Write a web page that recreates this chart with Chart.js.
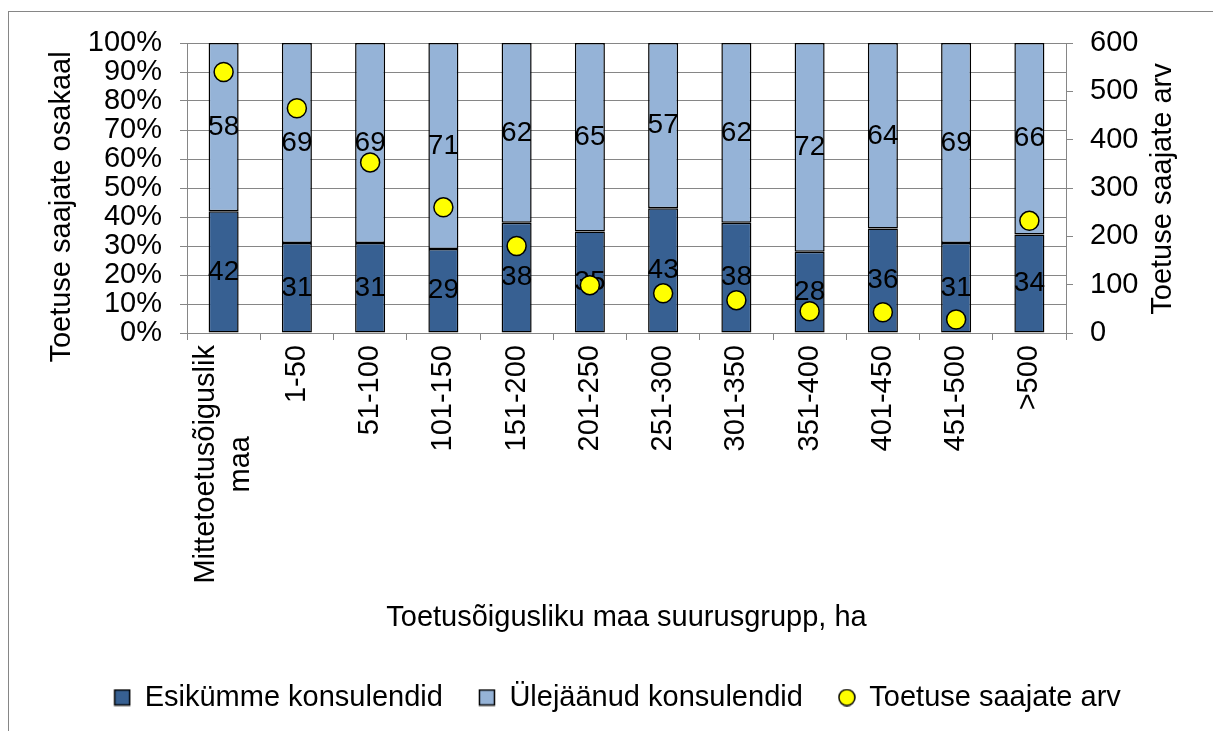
<!DOCTYPE html>
<html>
<head>
<meta charset="utf-8">
<script src="https://cdn.jsdelivr.net/npm/chart.js@4.4.1/dist/chart.umd.min.js"></script>
<style>
  body { margin: 0; background: #fff; overflow: hidden; }
  #frame { position: absolute; left: 8px; top: 11px; width: 1300px; height: 800px; border: 1px solid #868686; }
  #wrap { position: absolute; left: 0; top: 0; width: 1213px; height: 731px; }
</style>
</head>
<body>
<div id="frame"></div>
<div id="wrap"><canvas id="myChart"></canvas></div>
<script>
var categories = [["Mittetoetusõiguslik", "maa"], "1-50", "51-100", "101-150", "151-200", "201-250",
  "251-300", "301-350", "351-400", "401-450", "451-500", ">500"];
var esikumme = [42, 31, 31, 29, 38, 35, 43, 38, 28, 36, 31, 34];
var ulejaanud = [58, 69, 69, 71, 62, 65, 57, 62, 72, 64, 69, 66];
var saajad = [540, 465, 353, 260, 180, 99, 82, 68, 45, 43, 28, 232];

var gridColor = "#868686";
var fontFamily = "'Liberation Sans', Arial, sans-serif";
var textSize = 29;

Chart.defaults.font.family = fontFamily;
Chart.defaults.font.size = textSize;
Chart.defaults.color = "#000";

// small marker pictures for the legend
function marker(fill, round) {
  var c = document.createElement("canvas");
  c.width = 18;
  c.height = 18;
  var g = c.getContext("2d");
  g.fillStyle = fill;
  g.strokeStyle = "#000";
  g.lineWidth = 1.5;
  if (round) {
    g.beginPath();
    g.arc(9, 9, 8, 0, 2 * Math.PI);
    g.fill();
    g.stroke();
  } else {
    g.fillRect(1.5, 1.5, 15, 15);
    g.strokeRect(1.5, 1.5, 15, 15);
  }
  return c;
}
var markers = [marker("#376092"), marker("#95B3D7"), marker("#FFFF00", true)];

// numbers in the middle of each bar piece
var barLabels = {
  id: "barLabels",
  afterDatasetDraw: function(chart, args) {
    var meta = args.meta;
    if (meta.type !== "bar") return;
    var data = chart.data.datasets[args.index].data;
    var ctx = chart.ctx;
    ctx.save();
    ctx.font = "28px " + fontFamily;
    ctx.fillStyle = "#000";
    ctx.textAlign = "center";
    ctx.textBaseline = "middle";
    meta.data.forEach(function(bar, i) {
      ctx.fillText(data[i], bar.x, (bar.y + bar.base) / 2);
    });
    ctx.restore();
  }
};

// the two-line category label: center both lines on the tick
var centerLongLabel = {
  id: "centerLongLabel",
  beforeDraw: function(chart) {
    var scale = chart.scales.x;
    var item = scale.getLabelItems()[0];
    if (!item || item.moved) return;
    var lh = item.font.lineHeight;
    var ctx = chart.ctx;
    ctx.save();
    ctx.font = item.font.string;
    var w = Math.max.apply(null, categories[0].map(function(s) { return ctx.measureText(s).width; }));
    ctx.restore();
    item.options.textAlign = "center";
    item.options.translation = [item.options.translation[0] - lh / 2, item.options.translation[1] + w / 2];
    item.moved = true;
  }
};

// both vertical axis titles read bottom to top
var sideTitles = {
  id: "sideTitles",
  afterDraw: function(chart) {
    var ctx = chart.ctx;
    ctx.save();
    ctx.font = textSize + "px " + fontFamily;
    ctx.fillStyle = "#000";
    ctx.textAlign = "center";
    ctx.textBaseline = "middle";
    [[62, 207, "Toetuse saajate osakaal"], [1163, 189, "Toetuse saajate arv"]].forEach(function(t) {
      ctx.save();
      ctx.translate(t[0], t[1]);
      ctx.rotate(-Math.PI / 2);
      ctx.fillText(t[2], 0, 0);
      ctx.restore();
    });
    ctx.restore();
  }
};

var ctx = document.getElementById("myChart").getContext("2d");
var chart = new Chart(ctx, {
  type: "bar",
  data: {
    labels: categories,
    datasets: [
      {
        label: "Esikümme konsulendid",
        data: esikumme,
        backgroundColor: "#376092",
        borderColor: "#000",
        borderWidth: 1.5,
        borderSkipped: false,
        barPercentage: 0.41,
        categoryPercentage: 1,
        yAxisID: "y"
      },
      {
        label: "Ülejäänud konsulendid",
        data: ulejaanud,
        backgroundColor: "#95B3D7",
        borderColor: "#000",
        borderWidth: 1.5,
        borderSkipped: false,
        barPercentage: 0.41,
        categoryPercentage: 1,
        yAxisID: "y"
      },
      {
        type: "line",
        label: "Toetuse saajate arv",
        data: saajad,
        showLine: false,
        pointRadius: 9.5,
        pointBackgroundColor: "#FFFF00",
        pointBorderColor: "#000",
        pointBorderWidth: 1.5,
        backgroundColor: "#FFFF00",
        borderColor: "#000",
        yAxisID: "y2",
        order: -1
      }
    ]
  },
  options: {
    responsive: true,
    maintainAspectRatio: false,
    animation: false,
    layout: { padding: { top: 43, left: 22, right: 0, bottom: 9 } },
    plugins: {
      tooltip: { enabled: false },
      legend: {
        position: "bottom",
        labels: {
          usePointStyle: true,
          boxWidth: 16,
          boxHeight: 16,
          padding: 36,
          font: { size: textSize },
          color: "#000",
          sort: function(a, b) { return a.datasetIndex - b.datasetIndex; },
          generateLabels: function(chart) {
            var items = Chart.defaults.plugins.legend.labels.generateLabels(chart);
            items.forEach(function(it) { it.pointStyle = markers[it.datasetIndex]; });
            return items;
          }
        }
      }
    },
    scales: {
      x: {
        stacked: true,
        grid: { display: true, drawOnChartArea: false, offset: true, color: gridColor, tickLength: 7 },
        border: { color: gridColor },
        ticks: { autoSkip: false, minRotation: 90, maxRotation: 90, padding: 5, color: "#000" },
        title: {
          display: true,
          text: "Toetusõigusliku maa suurusgrupp, ha",
          color: "#000",
          padding: { top: 0, bottom: 12 }
        },
        afterFit: function(scale) { scale.height = 314; }
      },
      y: {
        stacked: true,
        min: 0,
        max: 100,
        ticks: {
          stepSize: 10,
          autoSkip: false,
          padding: 18,
          color: "#000",
          callback: function(v) { return v + "%"; }
        },
        grid: { color: gridColor, tickLength: 7 },
        border: { color: gridColor },
        afterFit: function(scale) { scale.width = 165; }
      },
      y2: {
        position: "right",
        min: 0,
        max: 600,
        ticks: { stepSize: 100, autoSkip: false, padding: 17, color: "#000" },
        grid: { drawOnChartArea: false, color: gridColor, tickLength: 7 },
        border: { color: gridColor },
        afterFit: function(scale) { scale.width = 147; }
      }
    }
  },
  plugins: [barLabels, centerLongLabel, sideTitles]
});
</script>
</body>
</html>
